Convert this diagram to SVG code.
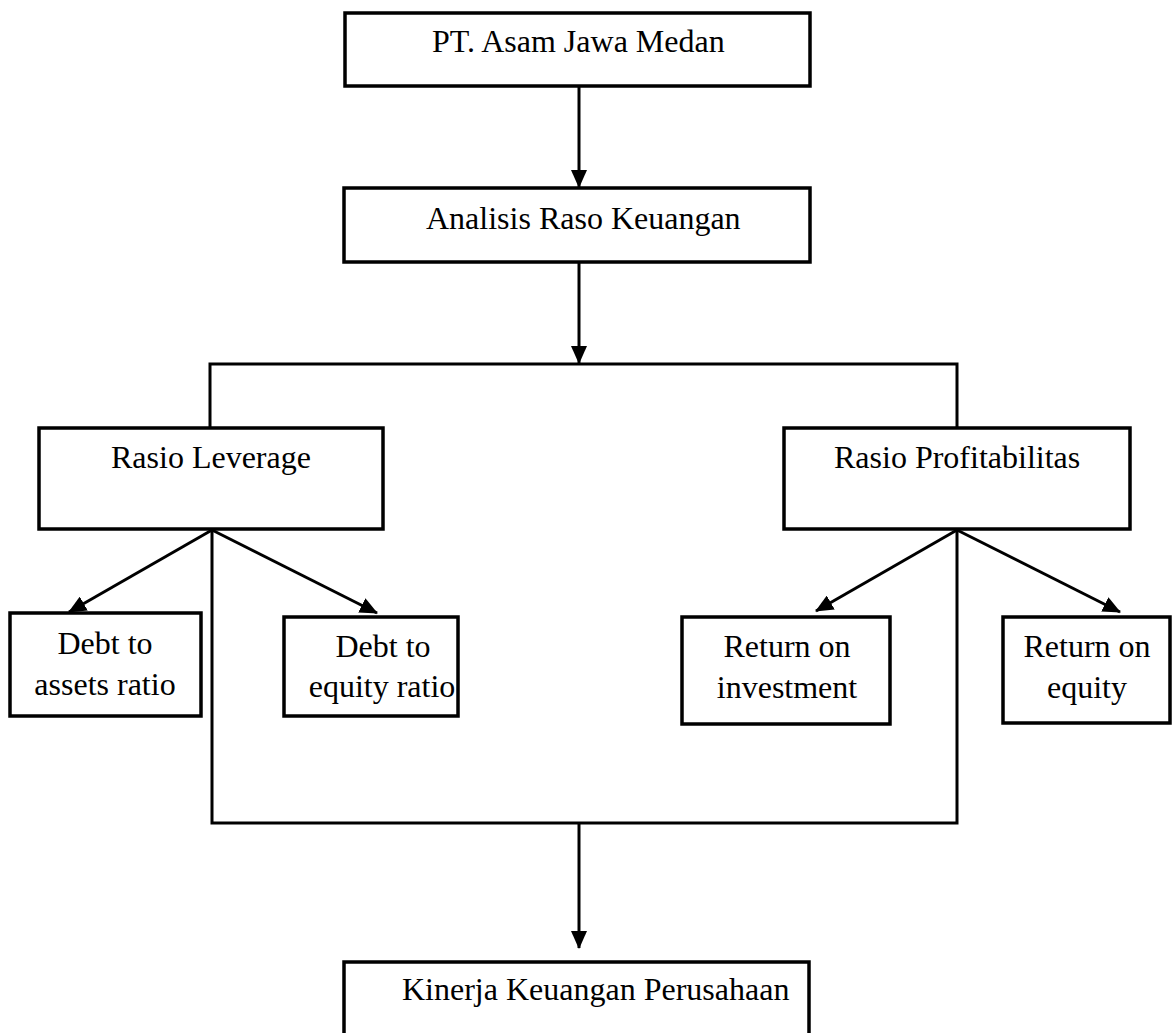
<svg xmlns="http://www.w3.org/2000/svg" width="1172" height="1033" viewBox="0 0 1172 1033">
  <style>
    .box { fill: #ffffff; stroke: #000000; stroke-width: 3.5; }
    .lbl { font-family: "Liberation Serif", "Times New Roman", serif; font-size: 32px; fill: #000000; }
    .mid { text-anchor: middle; }
    .ln { fill: none; stroke: #000000; stroke-width: 3; }
  </style>
  <defs>
    <marker id="arr" viewBox="0 0 18 16" refX="17" refY="8" markerWidth="18" markerHeight="16" markerUnits="userSpaceOnUse" orient="auto">
      <path d="M0,0 L18,8 L0,16 Z" fill="#000000"/>
    </marker>
  </defs>
  <rect width="1172" height="1033" fill="#ffffff"/>

  <g id="connectors">
    <line class="ln" x1="579" y1="86" x2="579" y2="187" marker-end="url(#arr)"/>
    <line class="ln" x1="579" y1="262" x2="579" y2="363" marker-end="url(#arr)"/>
    <polyline class="ln" points="210,427 210,364 957,364 957,427"/>
    <line class="ln" x1="212" y1="530" x2="69" y2="612" marker-end="url(#arr)"/>
    <line class="ln" x1="212" y1="530" x2="377" y2="613" marker-end="url(#arr)"/>
    <line class="ln" x1="957" y1="530" x2="816" y2="611" marker-end="url(#arr)"/>
    <line class="ln" x1="957" y1="530" x2="1120" y2="612" marker-end="url(#arr)"/>
    <polyline class="ln" points="212,530 212,823 957,823 957,530"/>
    <line class="ln" x1="579" y1="823" x2="579" y2="948" marker-end="url(#arr)"/>
  </g>

  <g id="pt">
    <rect class="box" x="345" y="13" width="465" height="73"/>
    <text class="lbl" x="432" y="52">PT. Asam Jawa Medan</text>
  </g>
  <g id="analisis">
    <rect class="box" x="344" y="188" width="466" height="74"/>
    <text class="lbl" x="426" y="229">Analisis Raso Keuangan</text>
  </g>
  <g id="leverage">
    <rect class="box" x="39" y="428" width="344" height="101"/>
    <text class="lbl" x="111" y="468">Rasio Leverage</text>
  </g>
  <g id="profitabilitas">
    <rect class="box" x="784" y="428" width="346" height="101"/>
    <text class="lbl" x="834" y="468">Rasio Profitabilitas</text>
  </g>
  <g id="dar">
    <rect class="box" x="10" y="613" width="191" height="103"/>
    <text class="lbl mid" x="105" y="654">Debt to</text>
    <text class="lbl mid" x="105" y="695">assets ratio</text>
  </g>
  <g id="der">
    <rect class="box" x="284" y="617" width="174" height="99"/>
    <text class="lbl mid" x="383" y="657">Debt to</text>
    <text class="lbl mid" x="382" y="697">equity ratio</text>
  </g>
  <g id="roi">
    <rect class="box" x="682" y="617" width="208" height="107"/>
    <text class="lbl mid" x="787" y="657">Return on</text>
    <text class="lbl mid" x="787" y="698">investment</text>
  </g>
  <g id="roe">
    <rect class="box" x="1003" y="617" width="167" height="106"/>
    <text class="lbl mid" x="1087" y="657">Return on</text>
    <text class="lbl mid" x="1087" y="698">equity</text>
  </g>
  <g id="kinerja">
    <rect class="box" x="344" y="962" width="465" height="90"/>
    <text class="lbl" x="402" y="1000">Kinerja Keuangan Perusahaan</text>
  </g>
</svg>
